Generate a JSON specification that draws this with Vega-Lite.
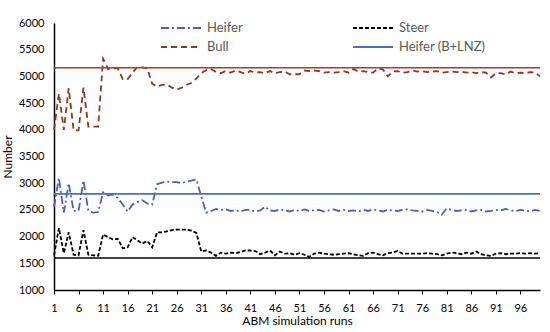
{
  "$schema": "https://vega.github.io/schema/vega-lite/v6.json",
  "autosize": "none",
  "width": 486,
  "height": 267,
  "padding": {"left": 54, "top": 23, "right": 10, "bottom": 42},
  "background": "white",
  "config": {
    "font": "Lato",
    "view": {"stroke": null},
    "axis": {"labelFont": "Lato", "titleFont": "Lato", "labelColor": "#000000", "titleColor": "#000000", "labelFontSize": 11, "titleFontSize": 12, "titleFontWeight": "normal", "grid": false, "domainColor": "#000000", "domainWidth": 1.5, "tickColor": "#000000"},
    "legend": {"padding": 0}
  },
  "datasets": {
    "runs": [
      {"run":1,"Heifer":2550,"Steer":1650,"Bull":4000},
      {"run":2,"Heifer":3100,"Steer":2160,"Bull":4680},
      {"run":3,"Heifer":2450,"Steer":1690,"Bull":4000},
      {"run":4,"Heifer":3000,"Steer":2080,"Bull":4780},
      {"run":5,"Heifer":2480,"Steer":1660,"Bull":3990},
      {"run":6,"Heifer":2480,"Steer":1650,"Bull":3990},
      {"run":7,"Heifer":3050,"Steer":2120,"Bull":4790},
      {"run":8,"Heifer":2480,"Steer":1660,"Bull":4060},
      {"run":9,"Heifer":2450,"Steer":1650,"Bull":4060},
      {"run":10,"Heifer":2460,"Steer":1640,"Bull":4060},
      {"run":11,"Heifer":2830,"Steer":2040,"Bull":5330},
      {"run":12,"Heifer":2770,"Steer":1990,"Bull":5140},
      {"run":13,"Heifer":2790,"Steer":1950,"Bull":5150},
      {"run":14,"Heifer":2720,"Steer":1960,"Bull":5150},
      {"run":15,"Heifer":2600,"Steer":1780,"Bull":4950},
      {"run":16,"Heifer":2470,"Steer":1800,"Bull":4950},
      {"run":17,"Heifer":2600,"Steer":1990,"Bull":5070},
      {"run":18,"Heifer":2650,"Steer":1930,"Bull":5180},
      {"run":19,"Heifer":2680,"Steer":1870,"Bull":5170},
      {"run":20,"Heifer":2620,"Steer":1920,"Bull":5150},
      {"run":21,"Heifer":2600,"Steer":1800,"Bull":4860},
      {"run":22,"Heifer":2980,"Steer":2080,"Bull":4810},
      {"run":23,"Heifer":3010,"Steer":2080,"Bull":4840},
      {"run":24,"Heifer":3030,"Steer":2100,"Bull":4850},
      {"run":25,"Heifer":3020,"Steer":2120,"Bull":4790},
      {"run":26,"Heifer":3020,"Steer":2130,"Bull":4750},
      {"run":27,"Heifer":3000,"Steer":2130,"Bull":4790},
      {"run":28,"Heifer":3030,"Steer":2130,"Bull":4840},
      {"run":29,"Heifer":3050,"Steer":2110,"Bull":4880},
      {"run":30,"Heifer":3070,"Steer":2070,"Bull":4960},
      {"run":31,"Heifer":2750,"Steer":1720,"Bull":5060},
      {"run":32,"Heifer":2450,"Steer":1740,"Bull":5120},
      {"run":33,"Heifer":2480,"Steer":1700,"Bull":5140},
      {"run":34,"Heifer":2520,"Steer":1640,"Bull":5080},
      {"run":35,"Heifer":2500,"Steer":1700,"Bull":5060},
      {"run":36,"Heifer":2510,"Steer":1680,"Bull":5100},
      {"run":37,"Heifer":2480,"Steer":1700,"Bull":5070},
      {"run":38,"Heifer":2490,"Steer":1690,"Bull":5110},
      {"run":39,"Heifer":2470,"Steer":1710,"Bull":5080},
      {"run":40,"Heifer":2500,"Steer":1740,"Bull":5050},
      {"run":41,"Heifer":2500,"Steer":1740,"Bull":5100},
      {"run":42,"Heifer":2470,"Steer":1730,"Bull":5070},
      {"run":43,"Heifer":2490,"Steer":1670,"Bull":5080},
      {"run":44,"Heifer":2560,"Steer":1700,"Bull":5060},
      {"run":45,"Heifer":2490,"Steer":1740,"Bull":5100},
      {"run":46,"Heifer":2480,"Steer":1650,"Bull":5060},
      {"run":47,"Heifer":2510,"Steer":1720,"Bull":5080},
      {"run":48,"Heifer":2490,"Steer":1680,"Bull":5090},
      {"run":49,"Heifer":2470,"Steer":1690,"Bull":5040},
      {"run":50,"Heifer":2500,"Steer":1660,"Bull":5040},
      {"run":51,"Heifer":2480,"Steer":1690,"Bull":5040},
      {"run":52,"Heifer":2510,"Steer":1660,"Bull":5110},
      {"run":53,"Heifer":2480,"Steer":1620,"Bull":5100},
      {"run":54,"Heifer":2490,"Steer":1680,"Bull":5110},
      {"run":55,"Heifer":2500,"Steer":1700,"Bull":5100},
      {"run":56,"Heifer":2470,"Steer":1680,"Bull":5070},
      {"run":57,"Heifer":2490,"Steer":1670,"Bull":5080},
      {"run":58,"Heifer":2510,"Steer":1660,"Bull":5070},
      {"run":59,"Heifer":2480,"Steer":1670,"Bull":5080},
      {"run":60,"Heifer":2500,"Steer":1680,"Bull":5100},
      {"run":61,"Heifer":2480,"Steer":1690,"Bull":5070},
      {"run":62,"Heifer":2490,"Steer":1670,"Bull":5140},
      {"run":63,"Heifer":2470,"Steer":1650,"Bull":5090},
      {"run":64,"Heifer":2500,"Steer":1640,"Bull":5100},
      {"run":65,"Heifer":2480,"Steer":1690,"Bull":5080},
      {"run":66,"Heifer":2510,"Steer":1700,"Bull":5070},
      {"run":67,"Heifer":2490,"Steer":1670,"Bull":5150},
      {"run":68,"Heifer":2470,"Steer":1650,"Bull":5130},
      {"run":69,"Heifer":2500,"Steer":1690,"Bull":5000},
      {"run":70,"Heifer":2490,"Steer":1700,"Bull":5090},
      {"run":71,"Heifer":2480,"Steer":1730,"Bull":5100},
      {"run":72,"Heifer":2500,"Steer":1680,"Bull":5070},
      {"run":73,"Heifer":2510,"Steer":1680,"Bull":5080},
      {"run":74,"Heifer":2490,"Steer":1680,"Bull":5110},
      {"run":75,"Heifer":2480,"Steer":1680,"Bull":5090},
      {"run":76,"Heifer":2470,"Steer":1680,"Bull":5100},
      {"run":77,"Heifer":2500,"Steer":1690,"Bull":5080},
      {"run":78,"Heifer":2480,"Steer":1680,"Bull":5090},
      {"run":79,"Heifer":2460,"Steer":1670,"Bull":5100},
      {"run":80,"Heifer":2410,"Steer":1650,"Bull":5070},
      {"run":81,"Heifer":2530,"Steer":1680,"Bull":5080},
      {"run":82,"Heifer":2500,"Steer":1700,"Bull":5090},
      {"run":83,"Heifer":2480,"Steer":1690,"Bull":5080},
      {"run":84,"Heifer":2490,"Steer":1670,"Bull":5090},
      {"run":85,"Heifer":2500,"Steer":1700,"Bull":5070},
      {"run":86,"Heifer":2470,"Steer":1680,"Bull":5080},
      {"run":87,"Heifer":2490,"Steer":1720,"Bull":5060},
      {"run":88,"Heifer":2500,"Steer":1670,"Bull":5080},
      {"run":89,"Heifer":2470,"Steer":1650,"Bull":5070},
      {"run":90,"Heifer":2480,"Steer":1640,"Bull":4980},
      {"run":91,"Heifer":2500,"Steer":1680,"Bull":5060},
      {"run":92,"Heifer":2490,"Steer":1690,"Bull":5060},
      {"run":93,"Heifer":2520,"Steer":1670,"Bull":5040},
      {"run":94,"Heifer":2490,"Steer":1680,"Bull":5090},
      {"run":95,"Heifer":2480,"Steer":1680,"Bull":5060},
      {"run":96,"Heifer":2500,"Steer":1690,"Bull":5070},
      {"run":97,"Heifer":2490,"Steer":1680,"Bull":5060},
      {"run":98,"Heifer":2470,"Steer":1690,"Bull":5080},
      {"run":99,"Heifer":2500,"Steer":1680,"Bull":5070},
      {"run":100,"Heifer":2480,"Steer":1690,"Bull":5000}
    ],
    "lnz": [
      {"run":1,"series":"Heifer (B+LNZ)","value":2800},
      {"run":100,"series":"Heifer (B+LNZ)","value":2800}
    ],
    "bullRef": [{"run":1,"value":5160},{"run":100,"value":5160}],
    "steerRef": [{"run":1,"value":1600},{"run":100,"value":1600}]
  },
  "encoding": {
    "x": {"field": "run", "type": "quantitative", "scale": {"domain": [1, 100], "nice": false, "zero": false},
      "axis": {"title": "ABM simulation runs", "values": [1,6,11,16,21,26,31,36,41,46,51,56,61,66,71,76,81,86,91,96], "tickSize": 4, "labelPadding": 8, "titlePadding": 2, "labelFlush": false}},
    "y": {"field": "value", "type": "quantitative", "scale": {"domain": [1000, 6000], "nice": false, "zero": false},
      "axis": {"title": "Number", "format": "d", "values": [1000,1500,2000,2500,3000,3500,4000,4500,5000,5500,6000], "ticks": false, "labelPadding": 10, "titlePadding": 4}}
  },
  "layer": [
    {
      "data": {"name": "steerRef"},
      "mark": {"type": "line", "color": "#000000", "strokeWidth": 1.5},
      "encoding": {}
    },
    {
      "data": {"name": "runs"},
      "transform": [{"fold": ["Heifer", "Steer", "Bull"], "as": ["series", "value"]}],
      "mark": {"type": "line", "strokeWidth": 1.8},
      "encoding": {
        "detail": {"field": "series"},
        "color": {"field": "series", "type": "nominal",
          "scale": {"domain": ["Heifer", "Bull", "Steer", "Heifer (B+LNZ)"], "range": ["#4a5fbf", "#8b3a1e", "#000000", "#4472c4"]},
          "legend": {"title": null, "orient": "none", "legendX": 116, "legendY": -6, "columns": 2, "columnPadding": 106, "rowPadding": 1, "symbolType": "M-2,0H2", "symbolSize": 400, "symbolStrokeWidth": 2, "labelFont": "Lato", "labelFontSize": 13, "labelColor": "#595959", "labelOffset": 15, "gridAlign": "each"}},
        "strokeDash": {"field": "series", "type": "nominal",
          "scale": {"domain": ["Heifer", "Bull", "Steer", "Heifer (B+LNZ)"], "range": [[8,3,2,3], [6,4], [4,2], [1,0]]},
          "legend": {"title": null, "orient": "none", "legendX": 116, "legendY": -6, "columns": 2, "columnPadding": 106, "rowPadding": 1, "symbolType": "M-2,0H2", "symbolSize": 400, "symbolStrokeWidth": 2, "labelFont": "Lato", "labelFontSize": 13, "labelColor": "#595959", "labelOffset": 15, "gridAlign": "each"}}
      }
    },
    {
      "data": {"name": "lnz"},
      "mark": {"type": "line", "strokeWidth": 1.8},
      "encoding": {
        "color": {"field": "series", "type": "nominal"},
        "strokeDash": {"field": "series", "type": "nominal"}
      }
    },
    {
      "data": {"name": "bullRef"},
      "mark": {"type": "line", "color": "#b0392b", "strokeWidth": 1.5},
      "encoding": {}
    }
  ]
}
